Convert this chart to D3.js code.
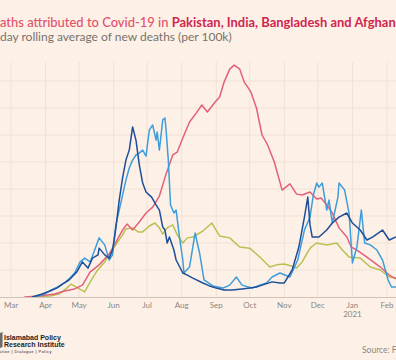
<!DOCTYPE html>
<html><head><meta charset="utf-8">
<script src="https://cdn.jsdelivr.net/npm/d3@7"></script>
<style>
html,body{margin:0;padding:0;background:#fdf1e7;overflow:hidden}
svg{display:block}
</style></head>
<body>
<svg id="c" width="396" height="360"></svg>
<script>
// ---------- data (7-day rolling average of new deaths per 100k) ----------
const india = [["2020-03-13",0],["2020-03-27",0.0004],["2020-04-09",0.0011],["2020-04-18",0.0022],["2020-04-27",0.003],["2020-05-04",0.0044],["2020-05-11",0.0093],["2020-05-19",0.0119],["2020-05-28",0.0159],["2020-06-04",0.0211],["2020-06-09",0.0248],["2020-06-13",0.027],["2020-06-18",0.0248],["2020-06-24",0.0278],["2020-06-30",0.0311],["2020-07-06",0.0333],["2020-07-12",0.0374],["2020-07-18",0.0456],["2020-07-24",0.0526],["2020-07-28",0.0537],["2020-08-02",0.0589],["2020-08-08",0.0648],["2020-08-14",0.0681],["2020-08-19",0.0711],["2020-08-24",0.0685],["2020-08-31",0.0722],["2020-09-04",0.0741],["2020-09-08",0.0796],["2020-09-13",0.0844],["2020-09-17",0.0859],["2020-09-22",0.0844],["2020-09-26",0.0796],["2020-09-29",0.0778],["2020-10-02",0.0759],["2020-10-07",0.07],["2020-10-12",0.06],["2020-10-17",0.0563],["2020-10-23",0.05],["2020-10-27",0.0441],["2020-10-30",0.0396],["2020-11-06",0.0419],["2020-11-12",0.0381],["2020-11-17",0.0378],["2020-11-24",0.0389],["2020-11-30",0.0363],["2020-12-04",0.0367],["2020-12-09",0.0341],["2020-12-14",0.0311],["2020-12-20",0.0256],["2020-12-27",0.0222],["2020-12-31",0.0185],["2021-01-05",0.0174],["2021-01-14",0.0148],["2021-01-26",0.0111],["2021-02-03",0.0081],["2021-02-09",0.0067]];
const bangladesh = [["2020-03-22",0],["2020-04-05",0.0004],["2020-04-13",0.0011],["2020-04-20",0.0033],["2020-04-24",0.0048],["2020-04-30",0.0033],["2020-05-06",0.0019],["2020-05-13",0.007],["2020-05-17",0.0096],["2020-05-24",0.013],["2020-05-28",0.0156],["2020-06-04",0.02],["2020-06-09",0.023],["2020-06-12",0.0252],["2020-06-18",0.0256],["2020-06-23",0.0241],["2020-06-27",0.0241],["2020-07-03",0.0263],["2020-07-08",0.0274],["2020-07-12",0.0256],["2020-07-15",0.0233],["2020-07-19",0.0256],["2020-07-24",0.0267],["2020-07-28",0.023],["2020-08-02",0.02],["2020-08-06",0.0219],["2020-08-11",0.0222],["2020-08-17",0.0237],["2020-08-21",0.0248],["2020-08-28",0.0274],["2020-09-04",0.0226],["2020-09-13",0.0219],["2020-09-22",0.0185],["2020-10-01",0.0181],["2020-10-10",0.0148],["2020-10-19",0.0111],["2020-10-25",0.0119],["2020-11-01",0.0122],["2020-11-07",0.0115],["2020-11-12",0.0107],["2020-11-17",0.013],["2020-11-22",0.0167],["2020-11-25",0.0185],["2020-11-30",0.02],["2020-12-09",0.0193],["2020-12-18",0.02],["2020-12-23",0.0174],["2020-12-29",0.0148],["2021-01-08",0.0144],["2021-01-17",0.0111],["2021-01-26",0.01],["2021-02-03",0.0074],["2021-02-09",0.007]];
const pakistan = [["2020-03-20",0],["2020-03-29",0.0011],["2020-04-05",0.0022],["2020-04-11",0.0033],["2020-04-16",0.0048],["2020-04-22",0.0063],["2020-04-29",0.0093],["2020-05-04",0.013],["2020-05-09",0.0107],["2020-05-13",0.0144],["2020-05-18",0.0156],["2020-05-19",0.0181],["2020-05-24",0.0156],["2020-05-28",0.0144],["2020-05-31",0.0174],["2020-06-03",0.0256],["2020-06-06",0.0359],["2020-06-09",0.0441],["2020-06-12",0.0507],["2020-06-15",0.0544],["2020-06-18",0.063],["2020-06-21",0.0581],["2020-06-24",0.0489],["2020-06-27",0.0422],["2020-06-30",0.0389],["2020-07-05",0.037],["2020-07-09",0.0341],["2020-07-12",0.0322],["2020-07-15",0.0259],["2020-07-17",0.0248],["2020-07-19",0.02],["2020-07-21",0.0222],["2020-07-25",0.0174],["2020-07-27",0.0137],["2020-08-02",0.0089],["2020-08-06",0.0081],["2020-08-11",0.007],["2020-08-20",0.0052],["2020-08-26",0.0041],["2020-09-01",0.0033],["2020-09-08",0.0026],["2020-09-15",0.0026],["2020-09-24",0.003],["2020-10-01",0.0033],["2020-10-07",0.0037],["2020-10-12",0.0044],["2020-10-21",0.0056],["2020-10-28",0.0052],["2020-11-01",0.0052],["2020-11-08",0.01],["2020-11-14",0.0185],["2020-11-19",0.0296],["2020-11-22",0.037],["2020-11-24",0.0267],["2020-11-26",0.0222],["2020-12-02",0.0222],["2020-12-09",0.0248],["2020-12-14",0.0274],["2020-12-20",0.0296],["2020-12-27",0.0311],["2021-01-01",0.0274],["2021-01-08",0.0248],["2021-01-14",0.0211],["2021-01-19",0.0222],["2021-01-28",0.0248],["2021-02-03",0.0211],["2021-02-09",0.0222]];
const afghanistan = [["2020-03-22",0],["2020-03-31",0.0011],["2020-04-06",0.0026],["2020-04-12",0.0037],["2020-04-18",0.0052],["2020-04-22",0.0067],["2020-04-27",0.0089],["2020-05-02",0.013],["2020-05-06",0.0144],["2020-05-11",0.013],["2020-05-15",0.0174],["2020-05-19",0.0219],["2020-05-24",0.0193],["2020-05-28",0.0137],["2020-05-31",0.0156],["2020-06-03",0.0267],["2020-06-06",0.0322],["2020-06-10",0.0396],["2020-06-12",0.0433],["2020-06-15",0.0478],["2020-06-18",0.0507],["2020-06-21",0.0526],["2020-06-24",0.0533],["2020-06-27",0.0544],["2020-06-30",0.0522],["2020-07-03",0.0619],["2020-07-06",0.0637],["2020-07-09",0.0581],["2020-07-10",0.0611],["2020-07-12",0.0544],["2020-07-15",0.0656],["2020-07-17",0.0663],["2020-07-18",0.0619],["2020-07-20",0.0507],["2020-07-22",0.0341],["2020-07-25",0.0311],["2020-07-27",0.0322],["2020-07-30",0.0222],["2020-08-02",0.0137],["2020-08-03",0.0089],["2020-08-08",0.0111],["2020-08-13",0.0237],["2020-08-17",0.0163],["2020-08-21",0.0063],["2020-08-29",0.0041],["2020-09-07",0.0033],["2020-09-13",0.0044],["2020-09-19",0.0074],["2020-09-24",0.0044],["2020-10-03",0.0033],["2020-10-10",0.0044],["2020-10-16",0.0052],["2020-10-21",0.0074],["2020-10-28",0.0089],["2020-11-06",0.0074],["2020-11-13",0.0137],["2020-11-19",0.0248],["2020-11-24",0.0296],["2020-11-27",0.0378],["2020-11-30",0.0422],["2020-12-02",0.0407],["2020-12-05",0.0422],["2020-12-09",0.0322],["2020-12-11",0.0359],["2020-12-14",0.0274],["2020-12-19",0.037],["2020-12-20",0.0422],["2020-12-25",0.0396],["2020-12-29",0.0311],["2021-01-01",0.0126],["2021-01-05",0.0185],["2021-01-09",0.0322],["2021-01-12",0.02],["2021-01-17",0.0193],["2021-01-23",0.0174],["2021-01-28",0.0137],["2021-02-02",0.0063],["2021-02-05",0.0037],["2021-02-09",0.0037]];

const seriesNames = ["Bangladesh","India","Afghanistan","Pakistan"];
const seriesData = [bangladesh, india, afghanistan, pakistan];
const seriesColors = ["#b9c052","#e3607a","#3d9ddc","#1d4e98"];
const monthTicks = ["2020-03-01","2020-04-01","2020-05-01","2020-06-01","2020-07-01","2020-08-01","2020-09-01","2020-10-01","2020-11-01","2020-12-01","2021-01-01","2021-02-01"];
const monthLabels = ["Mar","Apr","May","Jun","Jul","Aug","Sep","Oct","Nov","Dec","Jan","Feb"];
const yGrid = [0.01,0.02,0.03,0.04,0.05,0.06,0.07,0.08];

const titleLight = "Deaths attributed to Covid-19 in ";
const titleBold = "Pakistan, India, Bangladesh and Afghanistan";
const subtitle = "7-day rolling average of new deaths (per 100k)";

// ---------- drawing ----------
const svg = d3.select("#c");
const parse = d3.timeParse("%Y-%m-%d");
const x = d3.scaleTime().domain([parse("2020-03-01"), parse("2021-02-01")]).range([11, 387]);
const y = d3.scaleLinear().domain([0, 0.08]).range([297, 81]);
const font = "Lato, 'Open Sans', sans-serif";

// grid
const g = svg.append("g");
g.selectAll("line.v").data(monthTicks).join("line")
  .attr("x1", d => x(parse(d))).attr("x2", d => x(parse(d)))
  .attr("y1", 62).attr("y2", 297)
  .attr("stroke", "#f1e1d3").attr("stroke-width", 1);
g.selectAll("line.h").data(yGrid).join("line")
  .attr("x1", 0).attr("x2", 396)
  .attr("y1", d => y(d)).attr("y2", d => y(d))
  .attr("stroke", "#f1e1d3").attr("stroke-width", 1);

// lines
const line = d3.line().x(d => x(parse(d[0]))).y(d => y(d[1])).curve(d3.curveLinear);
seriesData.forEach((s, i) => {
  svg.append("path").datum(s).attr("d", line)
    .attr("fill", "none").attr("stroke", seriesColors[i])
    .attr("stroke-width", 1.5).attr("stroke-linejoin", "round");
});

// baseline axis
svg.append("line").attr("x1", 0).attr("x2", 396).attr("y1", y(0)+0.5).attr("y2", y(0)+0.5)
  .attr("stroke", "#cfc3b8").attr("stroke-width", 1.2);

// x labels
const xl = svg.append("g").attr("font-family", font).attr("font-size", 8).attr("fill", "#8c8681").attr("text-anchor", "middle");
monthTicks.forEach((d, i) => {
  xl.append("text").attr("x", x(parse(d))).attr("y", 308).text(monthLabels[i]);
});
xl.append("text").attr("x", x(parse("2021-01-01"))).attr("y", 317).text("2021");

// title (cropped at the left/right edges as in the reference)
const t = svg.append("text").attr("y", 27).attr("font-family", font).attr("font-size", 13);
t.append("tspan").attr("fill", "#e2506d").attr("font-weight", 500).text(titleLight);
t.append("tspan").attr("fill", "#cf2650").attr("font-weight", 700).text(titleBold);
{
  const node = t.node();
  const endIdx = titleLight.length + "Pakistan, India, Bangladesh and Afghan".length;
  const span = node.getSubStringLength(2, endIdx - 2);
  t.attr("font-size", 13 * 396 / span);
  t.attr("x", -node.getSubStringLength(0, 2));
}
const st = svg.append("text").attr("y", 41).attr("font-family", font).attr("font-size", 11).attr("fill", "#77716c").text(subtitle);
{
  const node = st.node();
  const span = node.getSubStringLength(2, subtitle.length - 2);
  st.attr("font-size", 11 * 232 / span);
  st.attr("x", -node.getSubStringLength(0, 2));
}

// logo
const lg = svg.append("g").attr("font-family", "Arial, 'Liberation Sans', sans-serif").attr("fill", "#1d1d1d");
lg.append("path").attr("d", "M0,333 L2.5,332 L2.5,347 L0,348 Z").attr("fill", "#6b6b6b");
lg.append("text").attr("x", 4).attr("y", 340).attr("font-size", 7).attr("font-weight", 700).text("Islamabad Policy");
lg.append("text").attr("x", 4).attr("y", 347).attr("font-size", 7).attr("font-weight", 700).text("Research Institute");
lg.append("text").attr("x", -1).attr("y", 353).attr("font-size", 4).attr("letter-spacing", 0.45).text("ation | Dialogue | Policy");

svg.append("text").attr("x", 362).attr("y", 353).attr("font-family", font).attr("font-size", 8.5).attr("fill", "#8c8681").text("Source: Financial Times");
</script>
</body></html>
